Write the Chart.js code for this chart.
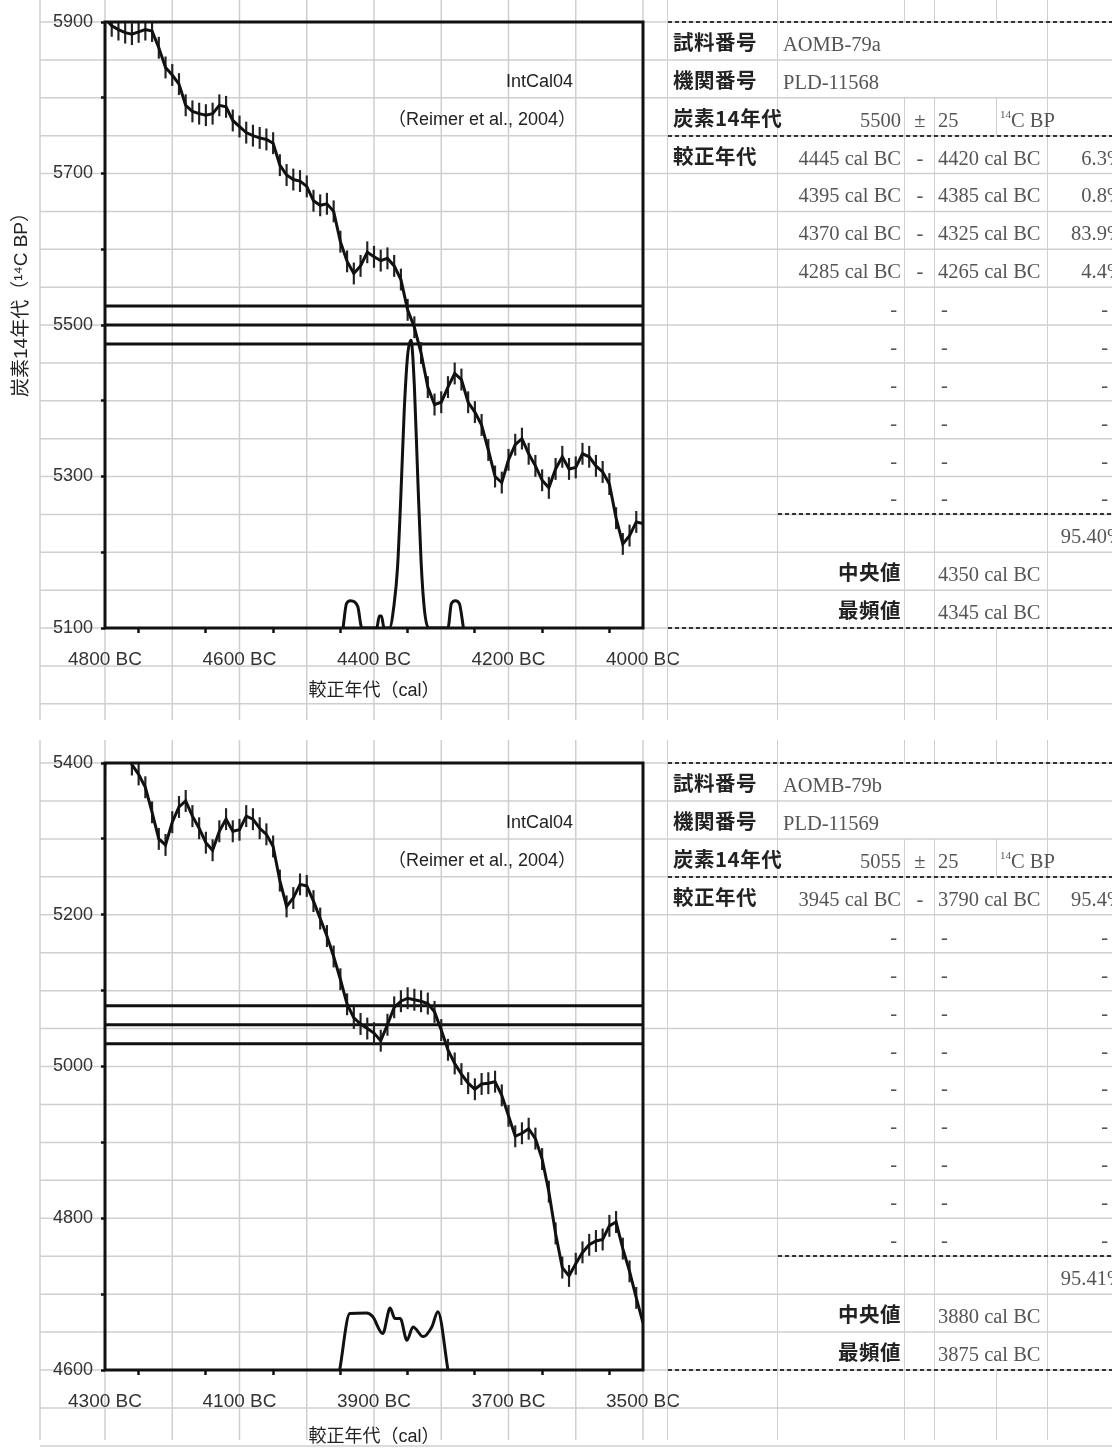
<!DOCTYPE html>
<html lang="ja">
<head>
<meta charset="utf-8">
<title>暦年較正</title>
<script src="https://cdn.jsdelivr.net/npm/chart.js@4.4.1/dist/chart.umd.min.js"></script>
<style>
  body { margin: 0; width: 1112px; height: 1450px; overflow: hidden; position: relative; background: #fff; }
  .panel { position: absolute; left: 0; width: 1112px; }
  .panel canvas { position: absolute; left: 0; top: 0; }
  .cell { position: absolute; display: flex; align-items: flex-end; box-sizing: border-box; padding-bottom: 4px;
          white-space: nowrap; font: 20.5px 'Liberation Serif', serif; color: #555; }
  .cell.r { justify-content: flex-end; }
  .cell.c { justify-content: center; }
  .lbl { font-family: 'Noto Sans CJK JP', sans-serif; font-weight: 700; color: #222; letter-spacing: 0.5px; }
  .cell sup { font-size: 11px; line-height: 0; vertical-align: 9px; }
  .vline { position: absolute; width: 0; border-left: 1.5px solid #cfcfcf; }
  .dots { position: absolute; height: 2px; background: repeating-linear-gradient(90deg, #333 0 4px, transparent 4px 7px); }
</style>
</head>
<body>
<div class="panel" id="panel0" style="top:0; height:730px;"><canvas id="chart0" width="1112" height="730"></canvas></div>
<div class="panel" id="panel1" style="top:740px; height:710px;"><canvas id="chart1" width="1112" height="710"></canvas></div>
<script>
// IntCal04 較正曲線（10年ごと）
const intcalYears = [
  4800, 4790, 4780, 4770, 4760, 4750, 4740, 4730, 4720, 4710,
  4700, 4690, 4680, 4670, 4660, 4650, 4640, 4630, 4620, 4610,
  4600, 4590, 4580, 4570, 4560, 4550, 4540, 4530, 4520, 4510,
  4500, 4490, 4480, 4470, 4460, 4450, 4440, 4430, 4420, 4410,
  4400, 4390, 4380, 4370, 4360, 4350, 4340, 4330, 4320, 4310,
  4300, 4290, 4280, 4270, 4260, 4250, 4240, 4230, 4220, 4210,
  4200, 4190, 4180, 4170, 4160, 4150, 4140, 4130, 4120, 4110,
  4100, 4090, 4080, 4070, 4060, 4050, 4040, 4030, 4020, 4010,
  4000, 3990, 3980, 3970, 3960, 3950, 3940, 3930, 3920, 3910,
  3900, 3890, 3880, 3870, 3860, 3850, 3840, 3830, 3820, 3810,
  3800, 3790, 3780, 3770, 3760, 3750, 3740, 3730, 3720, 3710,
  3700, 3690, 3680, 3670, 3660, 3650, 3640, 3630, 3620, 3610,
  3600, 3590, 3580, 3570, 3560, 3550, 3540, 3530, 3520, 3510,
  3500
];
const intcalBP = [
  5905, 5895, 5890, 5886, 5884, 5887, 5890, 5888, 5866, 5840,
  5830, 5818, 5790, 5782, 5779, 5777, 5779, 5790, 5788, 5770,
  5762, 5754, 5750, 5747, 5745, 5740, 5711, 5698, 5692, 5690,
  5683, 5664, 5658, 5660, 5650, 5610, 5584, 5568, 5578, 5596,
  5590, 5585, 5588, 5578, 5560, 5520, 5497, 5463, 5418, 5395,
  5398, 5418, 5436, 5428, 5398, 5385, 5368, 5335, 5300, 5292,
  5322, 5342, 5350, 5330, 5314, 5295, 5285, 5310, 5326, 5310,
  5312, 5330, 5326, 5314, 5306, 5290, 5245, 5211, 5222, 5240,
  5238, 5218, 5195, 5172, 5145, 5115, 5082, 5064, 5056, 5050,
  5044, 5034, 5055, 5078, 5086, 5090, 5088, 5086, 5083, 5072,
  5048, 5022, 5004, 4990, 4978, 4970, 4977, 4978, 4980, 4962,
  4935, 4908, 4912, 4918, 4905, 4878, 4835, 4780, 4735, 4724,
  4740, 4755, 4765, 4770, 4772, 4790, 4795, 4760, 4730, 4695,
  4662
];
const intcalSigma = 14;

// 試料データ
const sampleIds = ['AOMB-79a', 'AOMB-79b'];
const labIds = ['PLD-11568', 'PLD-11569'];
const c14Ages = [5500, 5055];
const c14Errors = [25, 25];
const calRanges = [
  [[4445, 4420, '6.3%'], [4395, 4385, '0.8%'], [4370, 4325, '83.9%'], [4285, 4265, '4.4%']],
  [[3945, 3790, '95.4%']]
];
const totalProb = ['95.40%', '95.41%'];
const medianBC = [4350, 3880];
const modeBC = [4345, 3875];

// 確率分布（プロット高さに対する割合）
const probYears = [
  [4446, 4441, 4435, 4429, 4424, 4418, 4396, 4392, 4389, 4385,
   4377, 4370, 4365, 4360, 4355, 4350, 4345, 4340, 4335, 4330, 4325, 4319,
   4290, 4285, 4279, 4273, 4267],
  [3951, 3936, 3911, 3902, 3887, 3876, 3869, 3861, 3851, 3842,
   3827, 3814, 3805, 3790]
];
const probDensity = [
  [0, 0.04, 0.045, 0.043, 0.035, 0, 0, 0.02, 0.02, 0,
   0, 0.04, 0.10, 0.22, 0.36, 0.45, 0.475, 0.40, 0.25, 0.11, 0.03, 0,
   0, 0.04, 0.045, 0.04, 0],
  [0, 0.093, 0.094, 0.088, 0.060, 0.102, 0.085, 0.085, 0.049, 0.071,
   0.055, 0.071, 0.096, 0]
];

// 軸範囲
const xLeftBC = [4800, 4300];
const xRightBC = [4000, 3500];
const yMinBP = [5100, 4600];
const yMaxBP = [5900, 5400];

const curveName = 'IntCal04';
const curveRef = '（Reimer et al., 2004）';
const xTitle = '較正年代（cal）';
const yTitle = '炭素14年代（¹⁴C BP）';

const GRID_GRAY = '#cfcfcf';
const SANS = "'Liberation Sans', 'Noto Sans CJK JP', sans-serif";

// レイアウト（パネル内座標）
const plotTop = [22, 23];
const plotBottom = [628, 630];
const panelHeight = [730, 710];
const xTitlePad = [28, 2];
const PLOT_LEFT = 105, PLOT_RIGHT = 643;

function makeChart(i) {
  const canvas = document.getElementById('chart' + i);
  const yMin = yMinBP[i], yMax = yMaxBP[i];
  const age = c14Ages[i], err = c14Errors[i];
  const ageLine = v => [{ x: xLeftBC[i], y: v }, { x: xRightBC[i], y: v }];
  const thick = { type: 'line', borderColor: '#111', borderWidth: 3, pointRadius: 0, fill: false };

  const sheetPlugin = {
    id: 'sheet',
    beforeDraw(chart) {
      const { ctx, scales: { x, y } } = chart;
      ctx.save();
      ctx.strokeStyle = GRID_GRAY;
      ctx.lineWidth = 1.5;
      ctx.beginPath();
      for (let v = yMax; v >= yMin - 100; v -= 50) {
        const py = y.getPixelForValue(v);
        ctx.moveTo(40, py);
        ctx.lineTo(chart.width, py);
      }
      x.ticks.forEach(t => {
        const px = x.getPixelForValue(t.value);
        ctx.moveTo(px, 0);
        ctx.lineTo(px, chart.height - 10);
      });
      ctx.moveTo(40, 0);
      ctx.lineTo(40, chart.height - 10);
      ctx.stroke();
      ctx.restore();
    },
    afterDatasetsDraw(chart) {
      const { ctx, chartArea: a } = chart;
      ctx.save();
      ctx.lineWidth = 3;
      ctx.strokeStyle = '#111';
      ctx.strokeRect(a.left, a.top, a.right - a.left, a.bottom - a.top);
      ctx.fillStyle = '#222';
      ctx.font = '18px ' + SANS;
      ctx.textAlign = 'right';
      ctx.textBaseline = 'middle';
      ctx.fillText(curveName, a.left + 468, a.top + 60);
      ctx.fillText(curveRef, a.left + 471, a.top + 98);
      if (i === 0) {
        ctx.translate(22, a.top + 278);
        ctx.rotate(-Math.PI / 2);
        ctx.textAlign = 'center';
        ctx.font = '19px ' + SANS;
        ctx.fillText(yTitle, 0, 0);
      }
      ctx.restore();
    }
  };

  return new Chart(canvas, {
    type: 'line',
    data: {
      datasets: [
        {
          label: 'IntCal04',
          data: intcalYears.map((x, k) => ({ x, y: intcalBP[k] })),
          borderColor: '#111', borderWidth: 3, pointRadius: 0, tension: 0, order: 1
        },
        {
          type: 'bar',
          label: 'σ',
          data: intcalYears.map((x, k) => ({ x, y: [intcalBP[k] - intcalSigma, intcalBP[k] + intcalSigma] })),
          backgroundColor: '#222', barThickness: 1.5, grouped: false, order: 2
        },
        { ...thick, label: '+σ', data: ageLine(age + err), order: 3 },
        { ...thick, label: 'age', data: ageLine(age), order: 3 },
        { ...thick, label: '-σ', data: ageLine(age - err), order: 3 },
        {
          ...thick, label: 'prob', yAxisID: 'yp', order: 0,
          cubicInterpolationMode: 'monotone',
          data: probYears[i].map((x, k) => ({ x, y: probDensity[i][k] }))
        }
      ]
    },
    options: {
      responsive: false,
      animation: false,
      layout: { padding: { left: 0, top: plotTop[i], right: 1112 - PLOT_RIGHT, bottom: 0 } },
      plugins: { legend: { display: false }, tooltip: { enabled: false } },
      scales: {
        x: {
          type: 'linear', reverse: true, offset: false,
          min: xRightBC[i], max: xLeftBC[i],
          border: { display: false },
          grid: { drawOnChartArea: false, drawTicks: true, tickLength: 5, tickWidth: 2.5, tickColor: '#111' },
          ticks: {
            stepSize: 100, autoSkip: false, maxRotation: 0, padding: 15,
            color: '#333', font: { family: SANS, size: 19 },
            callback: v => ((xLeftBC[i] - v) % 200 === 0 ? v + ' BC' : '')
          },
          title: {
            display: true, text: xTitle, color: '#222',
            font: { family: SANS, size: 18 }, padding: { top: 0, bottom: xTitlePad[i] }
          },
          afterFit: s => { s.height = panelHeight[i] - plotBottom[i]; }
        },
        y: {
          type: 'linear', position: 'left', min: yMin, max: yMax,
          border: { display: false },
          grid: {
            drawOnChartArea: false, drawTicks: true, tickLength: 4, tickWidth: 2.5,
            tickColor: c => (c.tick && c.tick.value % 100 === 0 ? '#111' : 'rgba(0,0,0,0)')
          },
          ticks: {
            stepSize: 50, autoSkip: false, padding: 8,
            color: '#333', font: { family: SANS, size: 18 },
            callback: v => ((v - yMin) % 200 === 0 ? String(v) : '')
          },
          afterFit: s => { s.width = PLOT_LEFT; }
        },
        yp: { type: 'linear', display: false, min: 0, max: 1 }
      }
    },
    plugins: [sheetPlugin]
  });
}

// 右側の表
const COL = { A: [668, 778], B: [778, 905], C: [905, 935], D: [935, 1048], D1: [935, 997], D2: [997, 1126], E: [1048, 1126], BE: [778, 1126] };

function addCell(panel, col, top, bottom, html, cls, pad) {
  const d = document.createElement('div');
  d.className = 'cell ' + (cls || '');
  d.style.left = COL[col][0] + 'px';
  d.style.width = (COL[col][1] - COL[col][0]) + 'px';
  d.style.top = top + 'px';
  d.style.height = (bottom - top) + 'px';
  if (pad) { d.style.paddingLeft = (pad[0] || 0) + 'px'; d.style.paddingRight = (pad[1] || 0) + 'px'; }
  d.innerHTML = '<span>' + html + '</span>';
  panel.appendChild(d);
}
function addVLine(panel, x, top, bottom) {
  const d = document.createElement('div');
  d.className = 'vline';
  d.style.left = (x - 0.75) + 'px';
  d.style.top = top + 'px';
  d.style.height = (bottom - top) + 'px';
  panel.appendChild(d);
}
function addDots(panel, x0, x1, y) {
  const d = document.createElement('div');
  d.className = 'dots';
  d.style.left = x0 + 'px';
  d.style.width = (x1 - x0) + 'px';
  d.style.top = (y - 1) + 'px';
  panel.appendChild(d);
}

function buildTable(i, chart) {
  const panel = document.getElementById('panel' + i);
  const H = panelHeight[i];
  const row = k => chart.scales.y.getPixelForValue(yMaxBP[i] - 50 * k);
  const cell = (k, col, html, cls, pad) => addCell(panel, col, row(k), row(k + 1), html, cls, pad);

  // 罫線
  addVLine(panel, 668, 0, H - 10);
  addVLine(panel, 778, 0, H - 10);
  addVLine(panel, 1048, 0, H - 10);
  [905, 935].forEach(x => { addVLine(panel, x, 0, row(0)); addVLine(panel, x, row(2), H - 10); });
  addVLine(panel, 997, 0, row(0));
  addVLine(panel, 997, row(2), row(3));
  addVLine(panel, 997, row(16), H - 10);
  addDots(panel, 668, 1112, row(0));
  addDots(panel, 668, 1112, row(3));
  addDots(panel, 778, 1112, row(13));
  addDots(panel, 668, 1112, row(16));

  cell(0, 'A', '試料番号', 'lbl', [5, 0]);
  cell(0, 'BE', sampleIds[i], '', [5, 0]);
  cell(1, 'A', '機関番号', 'lbl', [5, 0]);
  cell(1, 'BE', labIds[i], '', [5, 0]);
  cell(2, 'A', '炭素14年代', 'lbl', [5, 0]);
  cell(2, 'B', String(c14Ages[i]), 'r', [0, 4]);
  cell(2, 'C', '±', 'c');
  cell(2, 'D1', String(c14Errors[i]), '', [3, 0]);
  cell(2, 'D2', '<sup>14</sup>C BP', '', [3, 0]);
  cell(3, 'A', '較正年代', 'lbl', [5, 0]);
  for (let k = 0; k < 10; k++) {
    const r = calRanges[i][k];
    if (r) {
      cell(3 + k, 'B', r[0] + ' cal BC', 'r', [0, 4]);
      cell(3 + k, 'C', '-', 'c');
      cell(3 + k, 'D', r[1] + ' cal BC', '', [3, 0]);
      cell(3 + k, 'E', r[2], 'r', [0, 2]);
    } else {
      cell(3 + k, 'B', '-', 'r', [0, 8]);
      cell(3 + k, 'D', '-', '', [6, 0]);
      cell(3 + k, 'E', '-', 'r', [0, 18]);
    }
  }
  cell(13, 'E', totalProb[i], 'r', [0, 2]);
  cell(14, 'B', '中央値', 'lbl r', [0, 4]);
  cell(14, 'D', medianBC[i] + ' cal BC', '', [3, 0]);
  cell(15, 'B', '最頻値', 'lbl r', [0, 4]);
  cell(15, 'D', modeBC[i] + ' cal BC', '', [3, 0]);
}

[0, 1].forEach(i => buildTable(i, makeChart(i)));
</script>
</body>
</html>
